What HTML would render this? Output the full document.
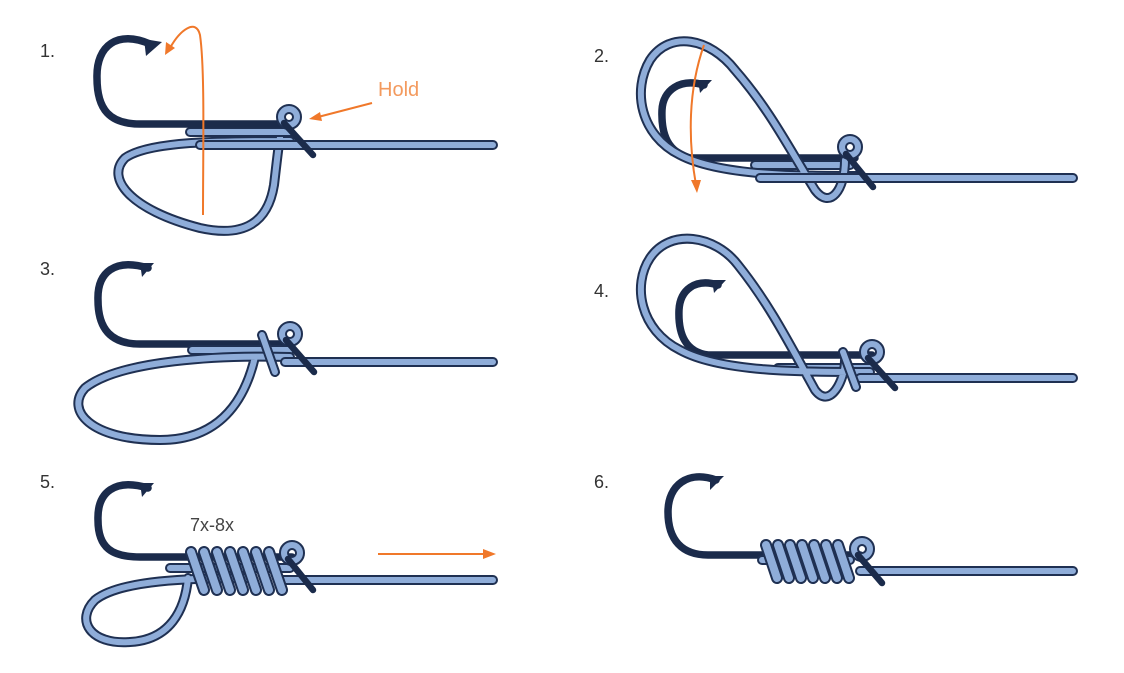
<!DOCTYPE html>
<html><head><meta charset="utf-8"><style>
html,body{margin:0;padding:0;background:#fff;}
svg{display:block}
.o{fill:none;stroke:#1f3052;stroke-width:10;stroke-linecap:round;stroke-linejoin:round}
.i{fill:none;stroke:#8fadd9;stroke-width:6;stroke-linecap:round;stroke-linejoin:round}
.h{fill:none;stroke:#1b2b4b;stroke-width:7.5;stroke-linecap:round;stroke-linejoin:round}
.hb{fill:#1b2b4b}
.t{stroke:#1b2b4b;stroke-width:6.5;stroke-linecap:round}
.or{fill:none;stroke:#f0782a;stroke-width:2}
.ora{fill:#f0782a}
.co{fill:none;stroke:#1f3052;stroke-width:12;stroke-linecap:round}
.ci{fill:none;stroke:#8fadd9;stroke-width:8;stroke-linecap:round}
text{font-family:"Liberation Sans",sans-serif}
.n{font-size:18px;fill:#333}
</style></head><body>
<svg width="1124" height="673" viewBox="0 0 1124 673">
<defs>
<path id="l1" d="M200,145 H493"/>
<path id="l1b" d="M290,141 C230,141 150,140 125,158 C105,178 130,210 200,228 C245,238 268,222 274,185 C277,160 279,140 281,132"/>
<path id="t1" d="M190,132 H290"/>
<path id="l2" d="M760,178 H1073"/>
<path id="l2b" d="M860,176 C800,176 720,176 680,155 C640,135 632,90 650,60 C670,30 710,38 735,70 C770,110 790,150 815,190 C830,210 845,190 845,160"/>
<path id="t2" d="M755,165 H850"/>
<path id="l3" d="M285,362 H493"/>
<path id="l3b" d="M290,357 C220,355 120,360 85,388 C65,410 90,440 160,440 C220,440 245,400 255,357"/>
<path id="t3" d="M192,350 H290"/>
<path id="l4" d="M860,378 H1073"/>
<path id="l4b" d="M870,372 C800,372 720,372 680,350 C640,330 632,285 650,258 C670,228 715,235 738,265 C770,305 790,345 815,390 C830,410 845,380 845,360"/>
<path id="t4" d="M778,368 H870"/>
<path id="l5" d="M280,580 H493"/>
<path id="l5b" d="M250,578 C190,578 120,580 95,600 C75,620 90,645 130,642 C170,640 185,610 188,578"/>
<path id="t5" d="M170,568 H290"/>
<path id="l6" d="M860,571 H1073"/>
<path id="t6" d="M762,560 H850"/>
<path id="c5" d="M191,552 L204,590 M204,552 L217,590 M217,552 L230,590 M230,552 L243,590 M243,552 L256,590 M256,552 L269,590 M269,552 L282,590"/>
<path id="c6" d="M766,545 L777,578 M778,545 L789,578 M790,545 L801,578 M802,545 L813,578 M814,545 L825,578 M826,545 L837,578 M838,545 L849,578"/>
</defs>

<text class="n" x="40" y="57">1.</text>
<text class="n" x="594" y="62">2.</text>
<text class="n" x="40" y="275">3.</text>
<text class="n" x="594" y="297">4.</text>
<text class="n" x="40" y="488">5.</text>
<text class="n" x="594" y="488">6.</text>

<!-- Panel 1 -->
<use href="#l1b" class="o"/><use href="#l1b" class="i"/>
<use href="#t1" class="o"/><use href="#t1" class="i"/>
<path class="h" d="M150,44 C118,30 96,45 97,78 C97,110 110,124 140,124 L285,124"/>
<path class="hb" d="M144,39 L162,42 L146,56 Z"/>
<use href="#l1" class="o"/><use href="#l1" class="i"/>
<circle cx="289" cy="117" r="8" class="o"/><circle cx="289" cy="117" r="8" class="i"/>
<line class="t" x1="284" y1="123" x2="313" y2="155"/>
<path class="or" d="M203,215 C203,150 205,70 200,35 C196,18 180,30 170,48"/>
<path class="ora" d="M165,55 L166,42 L175,48 Z"/>
<text x="378" y="96" font-size="20" fill="#f39a5e">Hold</text>
<line class="or" x1="372" y1="103" x2="318" y2="117"/>
<path class="ora" d="M309,119 L320,112 L322,121 Z"/>

<!-- Panel 2 -->
<path class="h" d="M704,85 C680,78 663,90 662,110 C661,135 668,152 690,158 L855,158"/>
<path class="hb" d="M698,80 L712,80 L700,93 Z"/>
<use href="#t2" class="o"/><use href="#t2" class="i"/>
<use href="#l2b" class="o"/><use href="#l2b" class="i"/>
<use href="#l2" class="o"/><use href="#l2" class="i"/>
<circle cx="850" cy="147" r="8" class="o"/><circle cx="850" cy="147" r="8" class="i"/>
<line class="t" x1="846" y1="154" x2="873" y2="187"/>
<path class="or" d="M704,45 C688,90 688,140 696,185"/>
<path class="ora" d="M697,193 L691,180 L701,180 Z"/>

<!-- Panel 3 -->
<path class="h" d="M148,268 C115,258 97,272 98,300 C98,330 112,344 140,344 L290,344"/>
<path class="hb" d="M140,263 L154,263 L142,277 Z"/>
<use href="#t3" class="o"/><use href="#t3" class="i"/>
<use href="#l3b" class="o"/><use href="#l3b" class="i"/>
<use href="#l3" class="o"/><use href="#l3" class="i"/>
<circle cx="290" cy="334" r="8" class="o"/><circle cx="290" cy="334" r="8" class="i"/>
<path class="o" d="M262,335 L275,372"/><path class="i" d="M262,335 L275,372"/>
<line class="t" x1="286" y1="340" x2="314" y2="372"/>

<!-- Panel 4 -->
<path class="h" d="M718,285 C695,278 680,290 679,310 C678,335 686,352 708,355 L872,355"/>
<path class="hb" d="M712,280 L726,280 L714,293 Z"/>
<use href="#t4" class="o"/><use href="#t4" class="i"/>
<use href="#l4b" class="o"/><use href="#l4b" class="i"/>
<use href="#l4" class="o"/><use href="#l4" class="i"/>
<circle cx="872" cy="352" r="8" class="o"/><circle cx="872" cy="352" r="8" class="i"/>
<path class="o" d="M843,352 L856,387"/><path class="i" d="M843,352 L856,387"/>
<line class="t" x1="868" y1="358" x2="895" y2="388"/>

<!-- Panel 5 -->
<path class="h" d="M148,488 C115,478 97,492 98,520 C98,548 112,557 140,557 L292,557"/>
<path class="hb" d="M140,483 L154,483 L142,497 Z"/>
<use href="#l5b" class="o"/><use href="#l5b" class="i"/>
<use href="#t5" class="o"/><use href="#t5" class="i"/>
<use href="#l5" class="o"/><use href="#l5" class="i"/>
<circle cx="292" cy="553" r="8" class="o"/><circle cx="292" cy="553" r="8" class="i"/>
<use href="#c5" class="co"/><use href="#c5" class="ci"/>
<line class="t" x1="288" y1="559" x2="313" y2="590"/>
<text x="190" y="531" font-size="18" fill="#444">7x-8x</text>
<line class="or" x1="378" y1="554" x2="485" y2="554"/>
<path class="ora" d="M496,554 L483,549 L483,559 Z"/>

<!-- Panel 6 -->
<path class="h" d="M716,480 C688,470 668,485 668,512 C668,540 682,555 708,555 L860,555"/>
<path class="hb" d="M710,476 L724,476 L710,490 Z"/>
<use href="#t6" class="o"/><use href="#t6" class="i"/>
<use href="#l6" class="o"/><use href="#l6" class="i"/>
<circle cx="862" cy="549" r="8" class="o"/><circle cx="862" cy="549" r="8" class="i"/>
<use href="#c6" class="co"/><use href="#c6" class="ci"/>
<line class="t" x1="858" y1="555" x2="882" y2="583"/>
</svg>
</body></html>
